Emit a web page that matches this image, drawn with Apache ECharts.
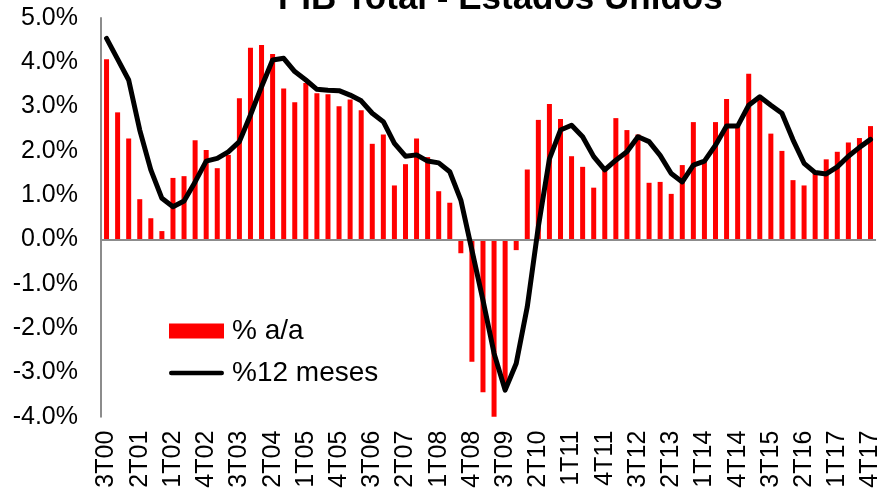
<!DOCTYPE html>
<html>
<head>
<meta charset="utf-8">
<script src="https://cdn.jsdelivr.net/npm/echarts@6/dist/echarts.min.js"></script>
<style>
html,body{margin:0;padding:0;background:#fff;}
#c{width:883px;height:494px;}
</style>
</head>
<body>
<div id="c"></div>
<script>
var categories = [
 '3T00','4T00',
 '1T01','2T01','3T01','4T01',
 '1T02','2T02','3T02','4T02',
 '1T03','2T03','3T03','4T03',
 '1T04','2T04','3T04','4T04',
 '1T05','2T05','3T05','4T05',
 '1T06','2T06','3T06','4T06',
 '1T07','2T07','3T07','4T07',
 '1T08','2T08','3T08','4T08',
 '1T09','2T09','3T09','4T09',
 '1T10','2T10','3T10','4T10',
 '1T11','2T11','3T11','4T11',
 '1T12','2T12','3T12','4T12',
 '1T13','2T13','3T13','4T13',
 '1T14','2T14','3T14','4T14',
 '1T15','2T15','3T15','4T15',
 '1T16','2T16','3T16','4T16',
 '1T17','2T17','3T17','4T17'
];
var pctYoY = [
 4.07, 2.87,
 2.28, 0.91, 0.48, 0.19,
 1.39, 1.43, 2.24, 2.02,
 1.61, 1.91, 3.19, 4.33,
 4.39, 4.19, 3.41, 3.10,
 3.53, 3.30, 3.28, 3.01,
 3.16, 2.92, 2.16, 2.37,
 1.22, 1.70, 2.28, 1.86,
 1.09, 0.83, -0.31, -2.76,
 -3.45, -4.04, -3.30, -0.24,
 1.58, 2.70, 3.06, 2.72,
 1.88, 1.64, 1.17, 1.57,
 2.74, 2.47, 2.37, 1.28,
 1.30, 1.03, 1.68, 2.65,
 1.75, 2.65, 3.17, 2.58,
 3.74, 3.18, 2.39, 2.00,
 1.34, 1.22, 1.50, 1.81,
 1.98, 2.19, 2.29, 2.56
];
var pct12m = [
 4.54, 4.07,
 3.60, 2.47, 1.57, 0.93,
 0.74, 0.87, 1.30, 1.77,
 1.83, 1.98, 2.21, 2.81,
 3.45, 4.05, 4.09, 3.79,
 3.60, 3.39, 3.37, 3.36,
 3.26, 3.13, 2.85, 2.66,
 2.17, 1.88, 1.91, 1.77,
 1.73, 1.53, 0.89, -0.24,
 -1.37, -2.57, -3.40, -2.80,
 -1.52, 0.29, 1.82, 2.47,
 2.58, 2.32, 1.87, 1.57,
 1.79, 1.98, 2.32, 2.21,
 1.90, 1.49, 1.30, 1.68,
 1.77, 2.13, 2.56, 2.56,
 3.03, 3.22, 3.03, 2.85,
 2.25, 1.72, 1.51, 1.48,
 1.64, 1.88, 2.08, 2.26
];
var yTicks = {min: -4, max: 5, interval: 1};

var chart = echarts.init(document.getElementById('c'), null, {renderer: 'canvas'});
var FONT = 'Liberation Sans, Arial, sans-serif';
chart.setOption({
  animation: false,
  backgroundColor: '#ffffff',
  title: {
    text: 'PIB Total - Estados Unidos',
    left: 273,
    top: -23,
    textStyle: {fontFamily: FONT, fontSize: 35, fontWeight: 'bold', color: '#000'}
  },
  grid: {left: 101, right: 6, top: 18, bottom: 77.3, containLabel: false},
  legend: {
    orient: 'vertical',
    left: 169,
    top: 317,
    padding: 0,
    itemWidth: 55,
    itemHeight: 15,
    itemGap: 14,
    textStyle: {fontFamily: FONT, fontSize: 28, color: '#000', padding: [0, 0, 0, 3]},
    data: [
      {name: '% a/a', icon: 'rect'},
      {name: '%12 meses', icon: 'path://M2.5,0 L57.5,0 A2.5,2.5 0 0 1 57.5,5 L2.5,5 A2.5,2.5 0 0 1 2.5,0 Z',
       itemStyle: {color: '#000'}, lineStyle: {width: 0, opacity: 0}}
    ]
  },
  xAxis: {
    type: 'category',
    data: categories,
    boundaryGap: true,
    axisLine: {show: false, onZero: false},
    axisTick: {show: false},
    splitLine: {show: false},
    axisLabel: {
      interval: 2,
      rotate: 90,
      margin: 14,
      fontFamily: FONT,
      fontSize: 25,
      color: '#000'
    }
  },
  yAxis: {
    type: 'value',
    min: yTicks.min,
    max: yTicks.max,
    interval: yTicks.interval,
    axisLine: {show: true, lineStyle: {color: '#8c8c8c', width: 2}},
    axisTick: {show: false},
    splitLine: {show: false},
    axisLabel: {
      margin: 23,
      fontFamily: FONT,
      fontSize: 25,
      color: '#000',
      formatter: function (v) { return v.toFixed(1) + '%'; }
    }
  },
  series: [
    {
      name: '% a/a',
      type: 'bar',
      data: pctYoY,
      barWidth: 5,
      itemStyle: {color: '#ff0000'},
      markLine: {
        silent: true,
        symbol: 'none',
        label: {show: false},
        lineStyle: {color: '#8c8c8c', width: 2, type: 'solid'},
        data: [{yAxis: 0}]
      }
    },
    {
      name: '%12 meses',
      type: 'line',
      data: pct12m,
      symbol: 'none',
      smooth: false,
      z: 5,
      lineStyle: {color: '#000', width: 5, cap: 'round', join: 'round'},
      itemStyle: {color: '#000'}
    }
  ]
});
</script>
</body>
</html>
